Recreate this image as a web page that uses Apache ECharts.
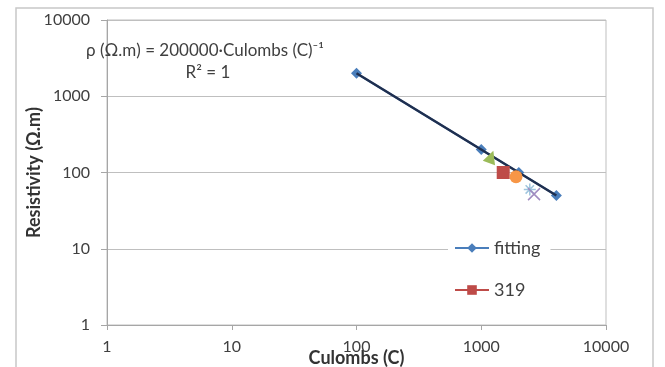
<!DOCTYPE html>
<html>
<head>
<meta charset="utf-8">
<script src="https://cdn.jsdelivr.net/npm/echarts@6/dist/echarts.min.js"></script>
<style>html,body{margin:0;padding:0;background:#fff;}#c{width:665px;height:367px;}</style>
</head>
<body>
<div id="c"></div>
<script>
// Data
const xTicks = [1, 10, 100, 1000, 10000];
const yTicks = [1, 10, 100, 1000, 10000];
const fittingX = [100, 1000, 2000, 4000];
const fittingY = [2000, 200, 100, 50];
const trendX = [100, 4000];
const trendY = [2000, 50];
const s319X = [1500];
const s319Y = [100];
const greenX = [1200];
const greenY = [160];
const orangeX = [1900];
const orangeY = [88];
const purpleX = [2650];
const purpleY = [52];
const cyanX = [2450];
const cyanY = [60];
const equationText = 'ρ (Ω.m) = 200000·Culombs (C)⁻¹';
const r2Text = 'R² = 1';

const zip = (a, b) => a.map((v, i) => [v, b[i]]);
const FONT = 'Lato, "Open Sans", sans-serif';

const chart = echarts.init(document.getElementById('c'), null, {renderer: 'canvas'});
chart.setOption({
  animation: false,
  backgroundColor: '#fff',
  grid: {left: 107, right: 59, top: 20, bottom: 42, containLabel: false, outerBoundsMode: 'none',
    show: true, borderColor: '#bfbfbf', borderWidth: 1},
  xAxis: {
    type: 'log', logBase: 10, min: 1, max: 10000,
    name: 'Culombs (C)', nameLocation: 'middle', nameGap: 24, nameMoveOverlap: false,
    nameTextStyle: {fontFamily: FONT, fontWeight: 'bold', fontSize: 18, color: '#333'},
    axisLine: {lineStyle: {color: '#a6a6a6'}},
    axisTick: {show: true, length: 5, lineStyle: {color: '#a6a6a6'}},
    minorTick: {show: false},
    splitLine: {show: false},
    axisLabel: {fontFamily: FONT, fontSize: 16, color: '#404040', margin: 14,
      formatter: v => String(Math.round(v))}
  },
  yAxis: {
    type: 'log', logBase: 10, min: 1, max: 10000,
    name: 'Resistivity (Ω.m)', nameLocation: 'middle', nameGap: 64, nameRotate: 90, nameMoveOverlap: false,
    nameTextStyle: {fontFamily: FONT, fontWeight: 'bold', fontSize: 18, color: '#333'},
    axisLine: {show: true, lineStyle: {color: '#a6a6a6'}},
    axisTick: {show: true, length: 6, lineStyle: {color: '#a6a6a6'}},
    splitLine: {show: true, lineStyle: {color: '#bfbfbf', width: 1}},
    axisLabel: {fontFamily: FONT, fontSize: 16, color: '#404040', margin: 17,
      formatter: v => String(Math.round(v))}
  },
  legend: {
    data: ['fitting', '319'],
    orient: 'vertical', left: 448, top: 235,
    itemWidth: 34, itemHeight: 12, itemGap: 24,
    backgroundColor: '#fff', padding: [4, 10, 4, 6],
    textStyle: {fontFamily: FONT, fontSize: 18, color: '#404040'}
  },
  graphic: [
    {type: 'rect', shape: {x: 16, y: 8, width: 637, height: 380}, style: {fill: 'none', stroke: '#c8c8c8', lineWidth: 1.5}, z: -1, silent: true},
    {type: 'text', x: 205, y: 51, style: {text: equationText, fontFamily: FONT, fontSize: 17, fill: '#404040', align: 'center', verticalAlign: 'middle'}, z: 10, silent: true},
    {type: 'text', x: 208, y: 73, style: {text: r2Text, fontFamily: FONT, fontSize: 17, fill: '#404040', align: 'center', verticalAlign: 'middle'}, z: 10, silent: true}
  ],
  series: [
    {
      name: 'trend', type: 'line', data: zip(trendX, trendY), symbol: 'none',
      lineStyle: {color: '#1f2f4f', width: 2.5}, z: 3, silent: true
    },
    {
      name: 'fitting', type: 'line', data: zip(fittingX, fittingY),
      symbol: 'diamond', symbolSize: 11,
      itemStyle: {color: '#4a7ebb'}, lineStyle: {color: '#4a7ebb', width: 2}, z: 2
    },
    {
      name: 'green', type: 'line', data: zip(greenX, greenY),
      symbol: 'triangle', symbolSize: 13, symbolRotate: -20, itemStyle: {color: '#9bbb59'}, z: 4
    },
    {
      name: 'cyan', type: 'line', data: zip(cyanX, cyanY),
      symbol: 'path://M0,5 L10,5 M5,0 L5,10 M1.5,1.5 L8.5,8.5 M8.5,1.5 L1.5,8.5', symbolSize: 12,
      itemStyle: {color: 'none', borderColor: '#9fc5de', borderWidth: 1.5}, z: 4
    },
    {
      name: '319', type: 'line', data: zip(s319X, s319Y),
      symbol: 'rect', symbolSize: 13, itemStyle: {color: '#be4b48'},
      lineStyle: {color: '#be4b48', width: 2}, z: 5
    },
    {
      name: 'orange', type: 'line', data: zip(orangeX, orangeY),
      symbol: 'circle', symbolSize: 13, itemStyle: {color: '#f79646'}, z: 5
    },
    {
      name: 'purple', type: 'line', data: zip(purpleX, purpleY),
      symbol: 'path://M0,0 L10,10 M10,0 L0,10', symbolSize: 12,
      itemStyle: {color: 'none', borderColor: '#a08cc0', borderWidth: 1.5}, z: 4
    }
  ]
});
</script>
</body>
</html>
